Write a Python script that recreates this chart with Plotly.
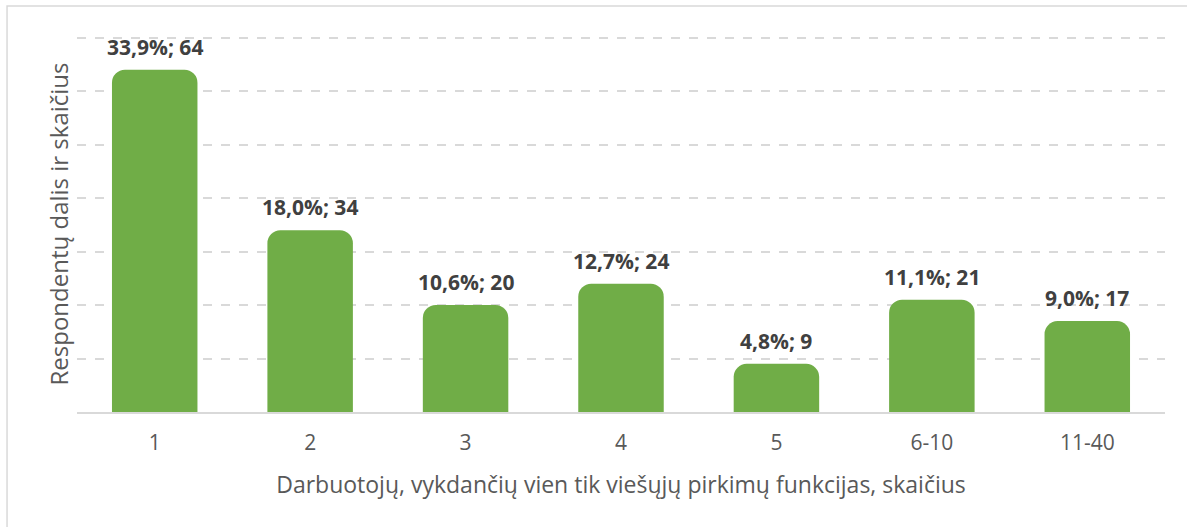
import plotly.graph_objects as go

categories = ["1", "2", "3", "4", "5", "6-10", "11-40"]
counts = [64, 34, 20, 24, 9, 21, 17]
percents = ["33,9%", "18,0%", "10,6%", "12,7%", "4,8%", "11,1%", "9,0%"]
labels = [f"{p}; {c}" for p, c in zip(percents, counts)]

FONT = "'Open Sans', sans-serif"

fig = go.Figure()
fig.add_trace(go.Bar(
    x=categories, y=counts,
    marker=dict(color="#70AD47", line=dict(width=0)),
    width=0.55,
    hoverinfo="skip",
))

for i, (val, lab) in enumerate(zip(counts, labels)):
    fig.add_annotation(
        x=i, y=val, xref="x", yref="y", text=f"<b>{lab}</b>", showarrow=False,
        yanchor="bottom", yshift=7,
        font=dict(family=FONT, size=21, color="#404040"),
    )

fig.update_layout(
    width=1187, height=527,
    margin=dict(l=77, r=22, t=36, b=115, autoexpand=False),
    paper_bgcolor="white", plot_bgcolor="white",
    barcornerradius=13,
    showlegend=False,
    font=dict(family=FONT, color="#595959"),
    xaxis=dict(
        type="category", automargin=False,
        showline=True, linecolor="#D9D9D9", linewidth=2,
        ticks="", ticklabelstandoff=11, tickfont=dict(size=21, color="#595959"),
        title=dict(text="Darbuotojų, vykdančių vien tik viešųjų pirkimų funkcijas, skaičius",
                   font=dict(size=23, color="#595959"), standoff=22),
    ),
    yaxis=dict(
        range=[0, 70.3], dtick=10, showticklabels=False, automargin=False,
        showgrid=True, gridcolor="#D9D9D9", griddash="dash", gridwidth=1.5,
        zeroline=False,
        title=dict(text="Respondentų dalis ir skaičius",
                   font=dict(size=24, color="#595959"), standoff=0),
    ),
    shapes=[dict(type="rect", xref="paper", yref="paper",
                 x0=-0.0643, x1=1.05, y0=-0.5, y1=1.0798,
                 line=dict(color="#D9D9D9", width=1.5), fillcolor="rgba(0,0,0,0)",
                 layer="below")],
)

fig.write_html("out.html", config={"displayModeBar": False},
               post_script="document.body.style.margin='0px';")
